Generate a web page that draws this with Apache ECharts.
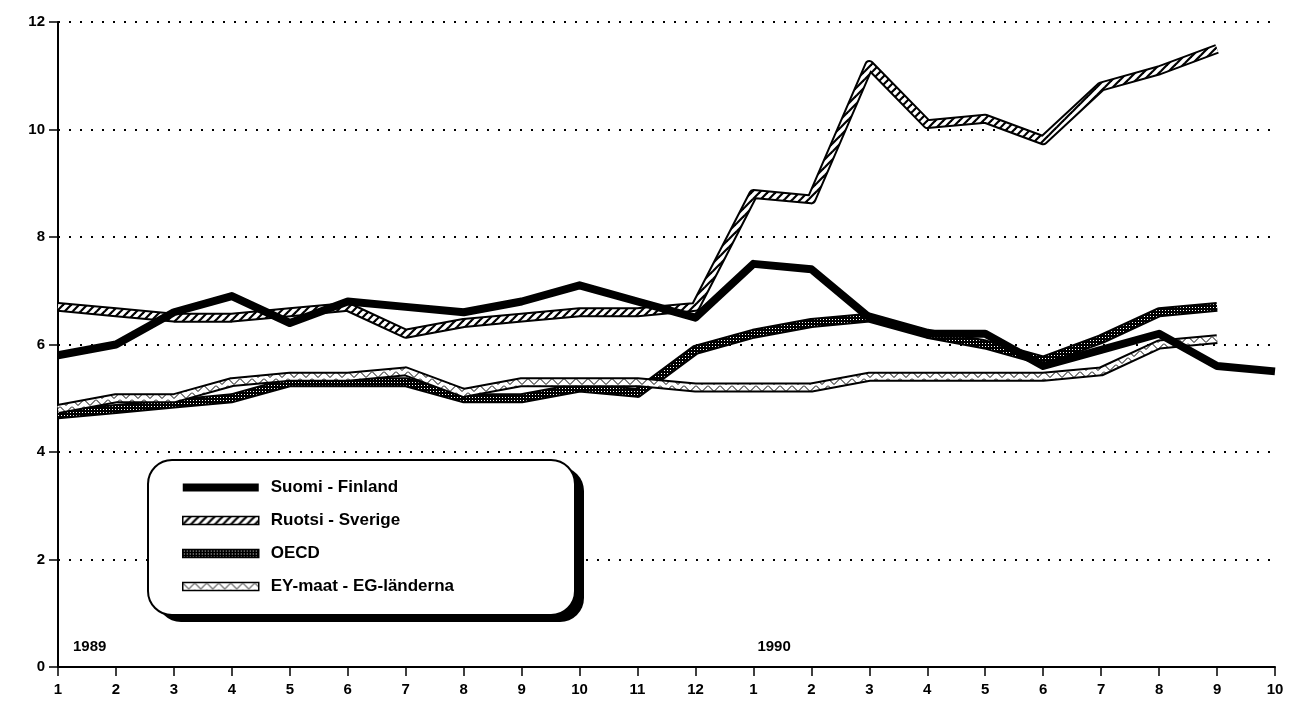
<!DOCTYPE html>
<html>
<head>
<meta charset="utf-8">
<script src="https://cdn.jsdelivr.net/npm/echarts@6/dist/echarts.min.js"></script>
<style>html,body{margin:0;padding:0;background:#fff}#c{width:1303px;height:701px}</style>
</head>
<body>
<div id="c"></div>
<script>
var months1989 = ['1','2','3','4','5','6','7','8','9','10','11','12'];
var months1990 = ['1','2','3','4','5','6','7','8','9','10'];
var yearLabels = ['1989','1990'];
var yTicks = [0,2,4,6,8,10,12];
var finland = [5.8,6.0,6.6,6.9,6.4,6.8,6.7,6.6,6.8,7.1,6.8,6.5, 7.5,7.4,6.5,6.2,6.2,5.6,5.9,6.2,5.6,5.5];
var sweden  = [6.7,6.6,6.5,6.5,6.6,6.7,6.2,6.4,6.5,6.6,6.6,6.7, 8.8,8.7,11.2,10.1,10.2,9.8,10.8,11.1,11.5];
var oecd    = [4.7,4.8,4.9,5.0,5.3,5.3,5.3,5.0,5.0,5.2,5.1,5.9, 6.2,6.4,6.5,6.2,6.0,5.7,6.1,6.6,6.7];
var ey      = [4.8,5.0,5.0,5.3,5.4,5.4,5.5,5.1,5.3,5.3,5.3,5.2, 5.2,5.2,5.4,5.4,5.4,5.4,5.5,6.0,6.1];
var names = ['Suomi - Finland','Ruotsi - Sverige','OECD','EY-maat - EG-länderna'];

var categories = months1989.concat(months1990);

function mkPattern(w,h,draw){
  var c=document.createElement('canvas');c.width=w;c.height=h;
  var g=c.getContext('2d');draw(g,w,h);
  return {image:c,repeat:'repeat'};
}
var hatch = mkPattern(8,8,function(g,w,h){
  g.fillStyle='#fff';g.fillRect(0,0,w,h);
  g.strokeStyle='#000';g.lineWidth=2.2;
  g.beginPath();g.moveTo(-2,10);g.lineTo(10,-2);g.stroke();
  g.beginPath();g.moveTo(-2,2);g.lineTo(2,-2);g.stroke();
  g.beginPath();g.moveTo(6,10);g.lineTo(10,6);g.stroke();
});
var dots = mkPattern(3,3,function(g,w,h){
  g.fillStyle='#000';g.fillRect(0,0,w,h);
  g.fillStyle='#fff';g.fillRect(1,1,1,1);
});
var tri = mkPattern(12,7,function(g,w,h){
  g.fillStyle='#fff';g.fillRect(0,0,w,h);
  g.strokeStyle='#000';g.lineWidth=1;
  g.beginPath();g.moveTo(0,0.5);g.lineTo(6,6.5);g.lineTo(12,0.5);g.stroke();
});

var outlineW = 10, innerW = 6;
function outline(data){
  return {type:'line',data:data,symbol:'none',silent:true,
    lineStyle:{color:'#000',width:outlineW,join:'round',cap:'butt'}};
}
function inner(name,data,pat){
  return {type:'line',name:name,data:data,symbol:'none',silent:true,
    lineStyle:{color:pat,width:innerW,join:'round',cap:'butt'},itemStyle:{color:'#000'}};
}

var chart = echarts.init(document.getElementById('c'),null,{renderer:'canvas'});
var font = 'Liberation Sans';
var box = {x:148,y:460,w:427,h:155,r:24};
chart.setOption({
  animation:false,
  backgroundColor:'#fff',
  grid:{left:58,right:28,top:22,bottom:34},
  xAxis:{type:'category',data:categories,boundaryGap:false,
    axisLine:{lineStyle:{color:'#000',width:2}},
    axisTick:{show:true,length:9,inside:false,lineStyle:{color:'#000',width:1.5}},
    axisLabel:{color:'#000',fontFamily:font,fontSize:15,fontWeight:'bold',margin:15,interval:0},
    splitLine:{show:false}},
  yAxis:{type:'value',min:yTicks[0],max:yTicks[yTicks.length-1],interval:2,
    axisLine:{show:true,lineStyle:{color:'#000',width:2}},
    axisTick:{show:true,length:9,lineStyle:{color:'#000',width:1.5}},
    axisLabel:{color:'#000',fontFamily:font,fontSize:15,fontWeight:'bold',margin:13},
    splitLine:{show:true,lineStyle:{color:'#000',type:[2,9],width:2}}},
  legend:{orient:'vertical',left:box.x,top:box.y,z:10,
    padding:[19,20,18,34],itemGap:16,itemWidth:76,itemHeight:8,icon:'rect',
    backgroundColor:'transparent',borderWidth:0,
    textStyle:{color:'#000',fontFamily:font,fontSize:17,fontWeight:'bold',padding:[0,0,0,7]},
    data:[
      {name:names[0],itemStyle:{color:'#000'}},
      {name:names[1],itemStyle:{color:hatch,borderColor:'#000',borderWidth:1.5}},
      {name:names[2],itemStyle:{color:dots,borderColor:'#000',borderWidth:1.5}},
      {name:names[3],itemStyle:{color:tri,borderColor:'#000',borderWidth:1.5}}
    ]},
  graphic:[
    {type:'rect',z:5,silent:true,shape:{x:box.x+9,y:box.y+7,width:box.w,height:box.h,r:box.r},style:{fill:'#000'}},
    {type:'rect',z:6,silent:true,shape:{x:box.x,y:box.y,width:box.w,height:box.h,r:box.r},style:{fill:'#fff',stroke:'#000',lineWidth:2}}
  ],
  series:[
    outline(oecd), inner(names[2],oecd,dots),
    outline(ey), inner(names[3],ey,tri),
    outline(sweden), inner(names[1],sweden,hatch),
    {type:'line',name:names[0],data:finland,symbol:'none',silent:true,
      lineStyle:{color:'#000',width:8,join:'round'},itemStyle:{color:'#000'}}
  ]
});
var p1 = chart.convertToPixel({xAxisIndex:0,yAxisIndex:0},[0,0]);
var p2 = chart.convertToPixel({xAxisIndex:0,yAxisIndex:0},[12,0]);
chart.setOption({graphic:[
  {}, {},
  {type:'text',left:p1[0]+15,top:p1[1]-28,style:{text:yearLabels[0],fill:'#000',font:'bold 15px "Liberation Sans"'}},
  {type:'text',left:p2[0]+4,top:p2[1]-28,style:{text:yearLabels[1],fill:'#000',font:'bold 15px "Liberation Sans"'}}
]});
</script>
</body>
</html>
